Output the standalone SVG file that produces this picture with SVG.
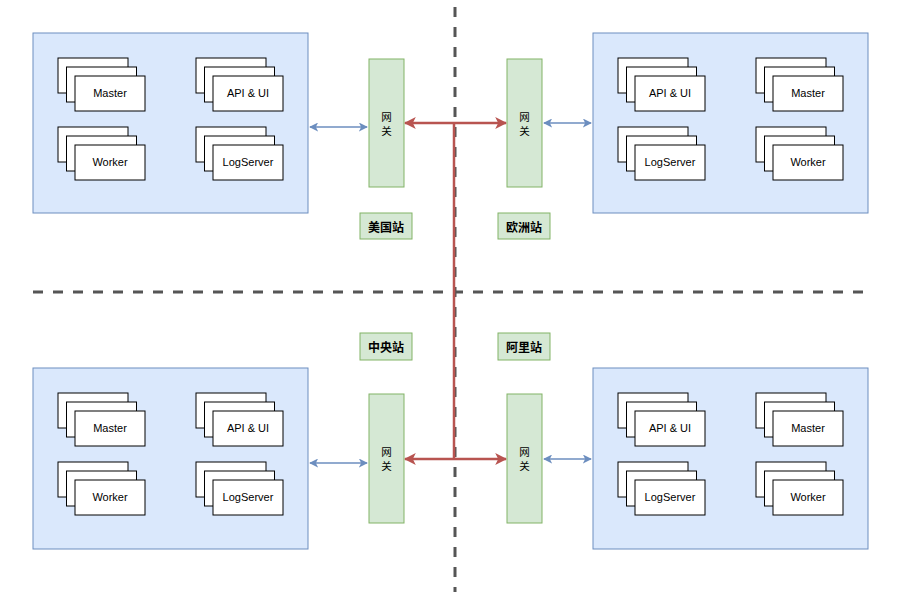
<svg xmlns="http://www.w3.org/2000/svg" width="911" height="597" viewBox="0 0 911 597">
<defs>
<style>
.region{fill:#dae8fc;stroke:#6c8ebf;stroke-width:1}
.card{fill:#fff;stroke:#000;stroke-width:1}
.gw{fill:#d5e8d4;stroke:#82b366;stroke-width:1}
.t{font-family:"Liberation Sans",Arial,sans-serif;font-size:11px;fill:#000;text-anchor:middle;dominant-baseline:central}
.g{font-family:"Noto Sans CJK SC","Liberation Sans",sans-serif;font-size:10.5px;fill:#000;text-anchor:middle;dominant-baseline:central}
.lb{font-family:"Noto Sans CJK SC","Liberation Sans",sans-serif;font-size:12px;font-weight:bold;fill:#000;text-anchor:middle;dominant-baseline:central}
.dash{stroke:#555;stroke-width:3;stroke-dasharray:10 10;fill:none}
.blue{stroke:#6c8ebf;stroke-width:1.5;fill:none;marker-start:url(#bs);marker-end:url(#be)}
.red{stroke:#b85450;stroke-width:2.5;fill:none}
.redA{stroke:#b85450;stroke-width:2.5;fill:none;marker-end:url(#re)}
</style>
<marker id="be" viewBox="0 0 10 10" refX="9" refY="5" markerWidth="9" markerHeight="9" markerUnits="userSpaceOnUse" orient="auto"><path d="M0,0 L10,5 L0,10 L2.5,5 Z" fill="#6c8ebf"/></marker>
<marker id="bs" viewBox="0 0 10 10" refX="1" refY="5" markerWidth="9" markerHeight="9" markerUnits="userSpaceOnUse" orient="auto"><path d="M10,0 L0,5 L10,10 L7.5,5 Z" fill="#6c8ebf"/></marker>
<marker id="re" viewBox="0 0 10 10" refX="9" refY="5" markerWidth="12" markerHeight="12" markerUnits="userSpaceOnUse" orient="auto"><path d="M0,0 L10,5 L0,10 L2.5,5 Z" fill="#b85450"/></marker>
<g id="stack">
<rect class="card" x="0" y="0" width="70" height="35"/>
<rect class="card" x="8.5" y="9" width="70" height="35"/>
<rect class="card" x="17" y="18" width="70" height="35"/>
</g>
</defs>
<rect width="911" height="597" fill="#fff"/>

<g id="dividers">
<line class="dash" x1="455" y1="7" x2="455" y2="592"/>
<line class="dash" x1="33" y1="292" x2="870" y2="292"/>
</g>

<g id="us">
<rect class="region" x="33" y="33" width="275" height="180"/>
<use href="#stack" x="58" y="58"/><text class="t" x="110" y="93">Master</text>
<use href="#stack" x="196" y="58"/><text class="t" x="248" y="93">API &amp; UI</text>
<use href="#stack" x="58" y="127"/><text class="t" x="110" y="162">Worker</text>
<use href="#stack" x="196" y="127"/><text class="t" x="248" y="162">LogServer</text>
</g>
<g id="eu">
<rect class="region" x="593" y="33" width="275" height="180"/>
<use href="#stack" x="618" y="58"/><text class="t" x="670" y="93">API &amp; UI</text>
<use href="#stack" x="756" y="58"/><text class="t" x="808" y="93">Master</text>
<use href="#stack" x="618" y="127"/><text class="t" x="670" y="162">LogServer</text>
<use href="#stack" x="756" y="127"/><text class="t" x="808" y="162">Worker</text>
</g>
<g id="central">
<rect class="region" x="33" y="368" width="275" height="181"/>
<use href="#stack" x="58" y="393"/><text class="t" x="110" y="428">Master</text>
<use href="#stack" x="196" y="393"/><text class="t" x="248" y="428">API &amp; UI</text>
<use href="#stack" x="58" y="462"/><text class="t" x="110" y="497">Worker</text>
<use href="#stack" x="196" y="462"/><text class="t" x="248" y="497">LogServer</text>
</g>
<g id="ali">
<rect class="region" x="593" y="368" width="275" height="181"/>
<use href="#stack" x="618" y="393"/><text class="t" x="670" y="428">API &amp; UI</text>
<use href="#stack" x="756" y="393"/><text class="t" x="808" y="428">Master</text>
<use href="#stack" x="618" y="462"/><text class="t" x="670" y="497">LogServer</text>
<use href="#stack" x="756" y="462"/><text class="t" x="808" y="497">Worker</text>
</g>

<g id="gw-us"><rect class="gw" x="369" y="59" width="35" height="128"/><text class="g" x="386.5" y="116.5">网</text><text class="g" x="386.5" y="130">关</text></g>
<g id="gw-eu"><rect class="gw" x="507" y="59" width="35" height="128"/><text class="g" x="524.5" y="116.5">网</text><text class="g" x="524.5" y="130">关</text></g>
<g id="gw-central"><rect class="gw" x="369" y="394" width="35" height="129"/><text class="g" x="386.5" y="451.5">网</text><text class="g" x="386.5" y="465">关</text></g>
<g id="gw-ali"><rect class="gw" x="507" y="394" width="35" height="129"/><text class="g" x="524.5" y="451.5">网</text><text class="g" x="524.5" y="465">关</text></g>

<g id="label-us"><rect class="gw" x="360" y="213" width="52" height="26"/><text class="lb" x="386" y="226">美国站</text></g>
<g id="label-eu"><rect class="gw" x="498" y="213" width="52" height="26"/><text class="lb" x="524" y="226">欧洲站</text></g>
<g id="label-central"><rect class="gw" x="360" y="333" width="52" height="27"/><text class="lb" x="386" y="346.5">中央站</text></g>
<g id="label-ali"><rect class="gw" x="498" y="333" width="52" height="27"/><text class="lb" x="524" y="346.5">阿里站</text></g>

<g id="connectors">
<line class="blue" x1="310" y1="127" x2="367" y2="127"/>
<line class="blue" x1="544" y1="123" x2="591" y2="123"/>
<line class="blue" x1="310" y1="463" x2="367" y2="463"/>
<line class="blue" x1="544" y1="459" x2="591" y2="459"/>
<line class="red" x1="454" y1="123" x2="454" y2="459"/>
<line class="redA" x1="454" y1="123" x2="405" y2="123"/>
<line class="redA" x1="454" y1="123" x2="506" y2="123"/>
<line class="redA" x1="454" y1="459" x2="405" y2="459"/>
<line class="redA" x1="454" y1="459" x2="506" y2="459"/>
</g>
</svg>
